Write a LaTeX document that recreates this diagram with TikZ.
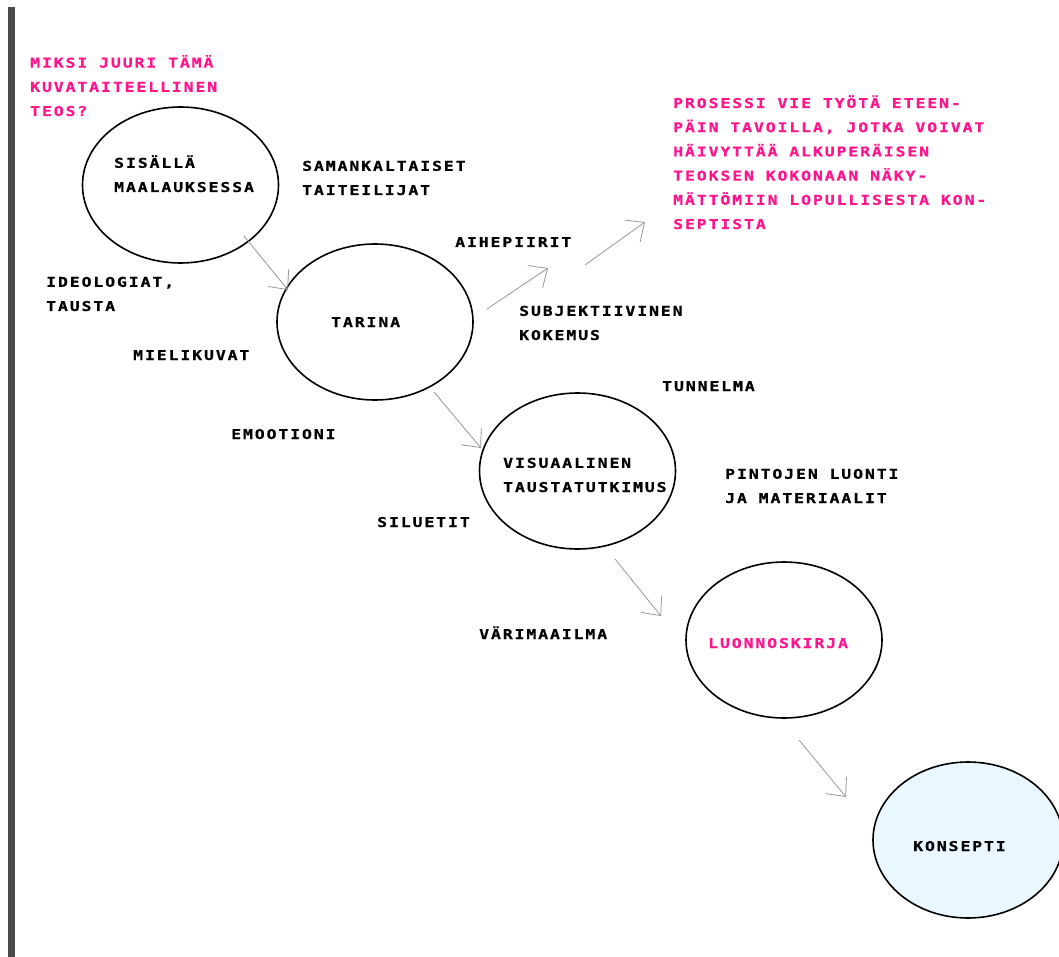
\documentclass[tikz,border=0pt]{standalone}
\usepackage{fontspec}
\usetikzlibrary{shapes.geometric,arrows.meta}
\newfontfamily\lblfont{DejaVu Sans Mono}[FakeStretch=1.22,LetterSpace=14,FakeBold=0.6]
\definecolor{pinkc}{RGB}{255,20,140}
\definecolor{bargray}{RGB}{75,75,75}
\definecolor{arrowgray}{RGB}{150,150,150}
\definecolor{konsfill}{RGB}{235,247,254}
\tikzset{
  lab/.style={anchor=base west, inner sep=0pt, align=left, font=\lblfont\bfseries\fontsize{13.5}{24.2}\selectfont},
  pinklab/.style={lab, text=pinkc},
  bubble/.style={draw, ellipse, line width=1.6pt, minimum width=196pt, minimum height=156pt, inner sep=0pt},
  flow/.style={draw=arrowgray, line width=0.8pt, -{Straight Barb[angle=84:20pt]}}
}
\begin{document}
\begin{tikzpicture}[x=1pt,y=-1pt]
\useasboundingbox (0,0) rectangle (1059,957);
\fill[bargray] (8,7) rectangle (15,957);

% bubbles
\node[bubble] (e1) at (180.5,185) {};
\node[bubble] (e2) at (375,322) {};
\node[bubble] (e3) at (577.5,471) {};
\node[bubble] (e4) at (784,640) {};
\node[bubble, fill=konsfill, minimum width=190pt] (e5) at (968,840) {};

% texts in bubbles (base anchor = baseline of the last line)
\node[lab] (t1) at (114,192) {SISÄLLÄ\\MAALAUKSESSA};
\node[lab] (t2) at (331,327) {TARINA};
\node[lab] (t3) at (503,492) {VISUAALINEN\\TAUSTATUTKIMUS};
\node[pinklab] (t4) at (708,648) {LUONNOSKIRJA};
\node[lab] (t5) at (913,851) {KONSEPTI};

% pink notes
\node[pinklab] (q1) at (30,116) {MIKSI JUURI TÄMÄ\\KUVATAITEELLINEN\\TEOS?};
\node[pinklab] (q2) at (673,229) {PROSESSI VIE TYÖTÄ ETEEN-\\PÄIN TAVOILLA, JOTKA VOIVAT\\HÄIVYTTÄÄ ALKUPERÄISEN\\TEOKSEN KOKONAAN NÄKY-\\MÄTTÖMIIN LOPULLISESTA KON-\\SEPTISTA};

% labels
\node[lab] (l1) at (302,195) {SAMANKALTAISET\\TAITEILIJAT};
\node[lab] (l2) at (455,247) {AIHEPIIRIT};
\node[lab] (l3) at (46,311) {IDEOLOGIAT,\\TAUSTA};
\node[lab] (l4) at (519,340) {SUBJEKTIIVINEN\\KOKEMUS};
\node[lab] (l5) at (133,360) {MIELIKUVAT};
\node[lab] (l6) at (662,391) {TUNNELMA};
\node[lab] (l7) at (231,439) {EMOOTIONI};
\node[lab] (l8) at (725,503) {PINTOJEN LUONTI\\JA MATERIAALIT};
\node[lab] (l9) at (377,527) {SILUETIT};
\node[lab] (l10) at (479,639) {VÄRIMAAILMA};

% arrow ends
\coordinate (a1s) at (244,236); \coordinate (a1e) at (288,290);
\coordinate (a2s) at (487,309); \coordinate (a2e) at (548,268);
\coordinate (a3s) at (585,265); \coordinate (a3e) at (645,222);
\coordinate (a4s) at (434,392); \coordinate (a4e) at (481,448);
\coordinate (a5s) at (615,559); \coordinate (a5e) at (661,616);
\coordinate (a6s) at (799,740); \coordinate (a6e) at (846,797);
\draw[flow] (a1s) -- (a1e);
\draw[flow] (a2s) -- (a2e);
\draw[flow] (a3s) -- (a3e);
\draw[flow] (a4s) -- (a4e);
\draw[flow] (a5s) -- (a5e);
\draw[flow] (a6s) -- (a6e);
\end{tikzpicture}
\end{document}
